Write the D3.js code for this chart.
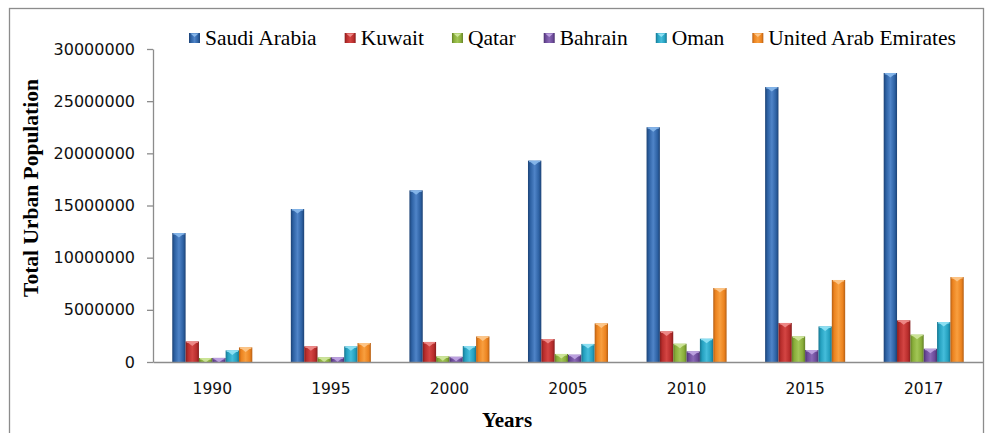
<!DOCTYPE html>
<html>
<head>
<meta charset="utf-8">
<script src="https://cdn.jsdelivr.net/npm/d3@7"></script>
<style>
  html, body { margin: 0; padding: 0; background: #fff; }
  svg { display: block; }
</style>
</head>
<body>
<svg id="chart" width="987" height="433"></svg>
<script>
// ---- data ----
const years = ["1990", "1995", "2000", "2005", "2010", "2015", "2017"];
const countries = ["Saudi Arabia", "Kuwait", "Qatar", "Bahrain", "Oman", "United Arab Emirates"];
const saudiArabia = [12360000, 14660000, 16450000, 19300000, 22500000, 26350000, 27700000];
const kuwait      = [1970000, 1500000, 1920000, 2200000, 2930000, 3740000, 3990000];
const qatar       = [380000, 440000, 540000, 770000, 1750000, 2450000, 2620000];
const bahrain     = [390000, 450000, 500000, 700000, 1020000, 1150000, 1270000];
const oman        = [1110000, 1500000, 1530000, 1730000, 2230000, 3410000, 3830000];
const uae         = [1400000, 1820000, 2450000, 3700000, 7090000, 7860000, 8140000];
const yTicks = [0, 5000000, 10000000, 15000000, 20000000, 25000000, 30000000];
const seriesValues = [saudiArabia, kuwait, qatar, bahrain, oman, uae];

// ---- styles ----
const palette = [
  {base: "#2d61a3", light: "#4f84c8", edge: "#1c4275", tip: "#86b6ea"},
  {base: "#b82d2c", light: "#d44543", edge: "#861d1d", tip: "#ee8a88"},
  {base: "#88ad39", light: "#a2c656", edge: "#627f26", tip: "#cde59a"},
  {base: "#6c4a99", light: "#8a69b6", edge: "#4b326f", tip: "#bea3e0"},
  {base: "#24a0bf", light: "#45bddb", edge: "#177590", tip: "#8ee0f3"},
  {base: "#ec831f", light: "#f89f3f", edge: "#b65f14", tip: "#fcc68a"}
];

const svg = d3.select("#chart");
const plot = {left: 153, right: 983, top: 49, bottom: 362};

// outer border
svg.append("rect")
  .attr("x", 9.5).attr("y", 8.5)
  .attr("width", 974).attr("height", 440)
  .attr("fill", "none").attr("stroke", "#8c8c8c").attr("stroke-width", 1.3);

// gradients
const defs = svg.append("defs");
palette.forEach((p, i) => {
  const g = defs.append("linearGradient").attr("id", "g" + i)
    .attr("x1", "0").attr("x2", "1").attr("y1", "0").attr("y2", "0");
  g.append("stop").attr("offset", "0").attr("stop-color", p.edge);
  g.append("stop").attr("offset", "0.18").attr("stop-color", p.base);
  g.append("stop").attr("offset", "0.5").attr("stop-color", p.light);
  g.append("stop").attr("offset", "0.82").attr("stop-color", p.base);
  g.append("stop").attr("offset", "1").attr("stop-color", p.edge);
});

// scales
const x0 = d3.scaleBand().domain(years).range([plot.left, plot.right])
  .paddingInner(0.325).paddingOuter(0.1625);
const x1 = d3.scaleBand().domain(countries).range([0, x0.bandwidth()]).padding(0);
const y = d3.scaleLinear().domain([0, 30000000]).range([plot.bottom, plot.top]);

// y axis
const yAxis = svg.append("g").attr("transform", `translate(${plot.left},0)`)
  .call(d3.axisLeft(y).tickValues(yTicks).tickFormat(d3.format("d")).tickSize(6).tickPadding(12).tickSizeOuter(0));
yAxis.select(".domain").attr("stroke", "#8c8c8c").attr("stroke-width", 1.3);
yAxis.selectAll(".tick line").attr("stroke", "#8c8c8c").attr("stroke-width", 1.3);
yAxis.selectAll(".tick text")
  .attr("font-family", "'DejaVu Sans', sans-serif").attr("font-size", 16).attr("fill", "#111");

// bars
const groups = svg.append("g").selectAll("g").data(years).join("g")
  .attr("transform", d => `translate(${x0(d)},0)`);
groups.each(function(yr, yi) {
  const g = d3.select(this);
  countries.forEach((c, ci) => {
    const v = seriesValues[ci][yi];
    const bx = x1(c), bw = x1.bandwidth();
    const top = y(v), h = y(0) - y(v);
    g.append("rect").attr("x", bx).attr("y", top).attr("width", bw).attr("height", h)
      .attr("fill", `url(#g${ci})`);
    const th = Math.min(4, h);
    g.append("rect").attr("x", bx + 1).attr("y", top).attr("width", bw - 2).attr("height", Math.min(1.5, h))
      .attr("fill", palette[ci].tip).attr("opacity", 0.9);
    g.append("path")
      .attr("d", `M${bx + 1.5},${top + 0.5} L${bx + bw - 1.5},${top + 0.5} L${bx + bw / 2},${top + th + 0.5} Z`)
      .attr("fill", palette[ci].tip).attr("opacity", 0.95);
  });
});

// x axis
const xAxis = svg.append("g").attr("transform", `translate(0,${plot.bottom})`)
  .call(d3.axisBottom(x0).tickSize(0).tickPadding(21).tickSizeOuter(0));
xAxis.select(".domain").attr("stroke", "#8c8c8c").attr("stroke-width", 1.3);
xAxis.selectAll(".tick text")
  .attr("font-family", "'DejaVu Sans', sans-serif").attr("font-size", 15.5).attr("fill", "#111");

// axis titles
svg.append("text")
  .attr("transform", "translate(38,188) rotate(-90)")
  .attr("text-anchor", "middle")
  .attr("font-family", "'Liberation Serif', 'Times New Roman', serif")
  .attr("font-weight", "bold").attr("font-size", 21.5).attr("fill", "#000")
  .text("Total Urban Population");
svg.append("text")
  .attr("x", 507).attr("y", 427)
  .attr("text-anchor", "middle")
  .attr("font-family", "'Liberation Serif', 'Times New Roman', serif")
  .attr("font-weight", "bold").attr("font-size", 21).attr("fill", "#000")
  .text("Years");

// legend
const legend = svg.append("g");
let lx = 189;
countries.forEach((c, ci) => {
  const item = legend.append("g");
  item.append("rect").attr("x", lx).attr("y", 33).attr("width", 11).attr("height", 10)
    .attr("fill", `url(#g${ci})`);
  item.append("path")
    .attr("d", `M${lx + 1.5},${33.5} L${lx + 9.5},${33.5} L${lx + 5.5},${37} Z`)
    .attr("fill", palette[ci].tip);
  const t = item.append("text").attr("x", lx + 16).attr("y", 45)
    .attr("font-family", "'Liberation Serif', 'Times New Roman', serif")
    .attr("font-size", 21.5).attr("fill", "#000").text(c);
  lx += 16 + t.node().getComputedTextLength() + 28;
});
</script>
</body>
</html>
